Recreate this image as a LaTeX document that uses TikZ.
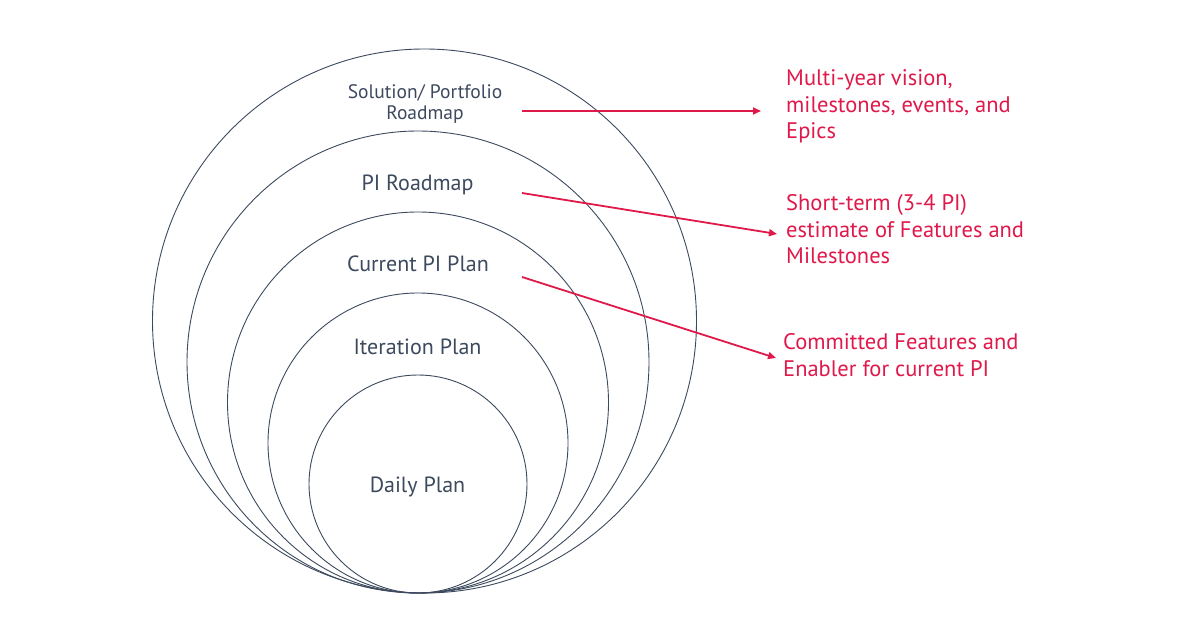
\documentclass[tikz,border=0pt]{standalone}
\usepackage{fontspec}
\setmainfont{PT Sans}
\usetikzlibrary{arrows.meta}
\definecolor{ink}{HTML}{3D4A5E}
\definecolor{accent}{HTML}{E0194B}
\tikzset{
  ring/.style={draw=ink, line width=0.9pt},
  lab/.style={text=ink, inner sep=0pt, font=\fontsize{22}{26}\selectfont, anchor=base},
  smalllab/.style={text=ink, inner sep=0pt, font=\fontsize{19.5}{21}\selectfont, align=center, anchor=base},
  note/.style={text=accent, inner sep=0pt, font=\fontsize{22.5}{26.5}\selectfont, align=left, anchor=base west},
  pointer/.style={draw=accent, line width=1.8pt, -{Triangle[length=8pt,width=7pt]}}
}
\begin{document}
\begin{tikzpicture}[x=1pt,y=-1pt]
\useasboundingbox[fill=white] (0,0) rectangle (1200,628);
% rings
\draw[ring] (424.5,321) circle[radius=272];
\draw[ring] (418,362) circle[radius=231];
\draw[ring] (418,402.5) circle[radius=190.5];
\draw[ring] (418,443) circle[radius=150];
\draw[ring] (418,484) circle[radius=109];
% labels (base anchor = baseline of last line)
\node[smalllab] (sol) at (425,120) {Solution/ Portfolio\\Roadmap};
\node[lab] (pir) at (417.5,191) {PI Roadmap};
\node[lab] (cpi) at (418,272) {Current PI Plan};
\node[lab] (itp) at (417.5,355) {Iteration Plan};
\node[lab] (dp) at (417.5,492) {Daily Plan};
% notes
\node[note] (n1) at (786,139) {Multi-year vision,\\milestones, events, and\\Epics};
\node[note] (n2) at (786,264) {Short-term (3-4 PI)\\estimate of Features and\\Milestones};
\node[note] (n3) at (783,376.5) {Committed Features and\\Enabler for current PI};
% pointer ends
\coordinate (s1) at (522,111);
\coordinate (e1) at (761,111);
\coordinate (s2) at (522,193);
\coordinate (e2) at (777,234);
\coordinate (s3) at (522,277);
\coordinate (e3) at (776,358);
\draw[pointer] (s1) -- (e1);
\draw[pointer] (s2) -- (e2);
\draw[pointer] (s3) -- (e3);
\end{tikzpicture}
\end{document}
